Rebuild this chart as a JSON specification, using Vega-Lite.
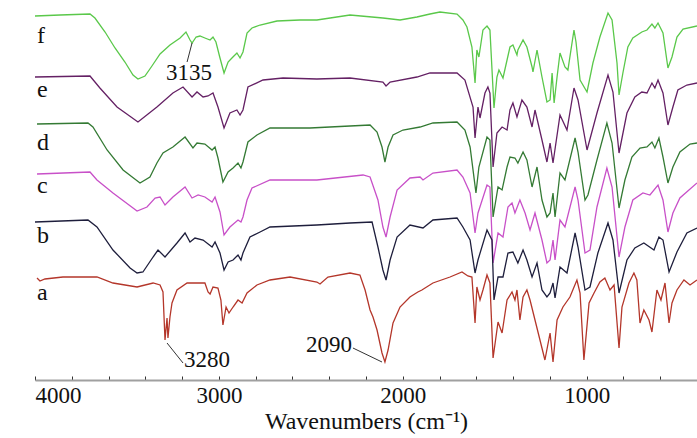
{
"$schema": "https://vega.github.io/schema/vega-lite/v6.json",
"width": 662, "height": 380,
"padding": {"left": 35, "top": 0, "right": 0, "bottom": 58},
"autosize": {"type": "none"},
"background": "white",
"config": {"view": {"stroke": null}, "font": "Times New Roman",
  "axis": {"labelFont": "Times New Roman", "titleFont": "Times New Roman"},
  "text": {"font": "Times New Roman"}},
"datasets": {
"spectra": [
{"s":"f","w":4000,"t":364},{"s":"f","w":3864,"t":365},{"s":"f","w":3701,"t":366},{"s":"f","w":3674,"t":362},{"s":"f","w":3619,"t":348},{"s":"f","w":3565,"t":332},{"s":"f","w":3511,"t":318},{"s":"f","w":3467,"t":305},{"s":"f","w":3440,"t":301},{"s":"f","w":3402,"t":304},{"s":"f","w":3364,"t":314},{"s":"f","w":3320,"t":326},{"s":"f","w":3266,"t":335},{"s":"f","w":3211,"t":342},{"s":"f","w":3179,"t":348},{"s":"f","w":3157,"t":340},{"s":"f","w":3146,"t":337},{"s":"f","w":3124,"t":343},{"s":"f","w":3103,"t":344},{"s":"f","w":3076,"t":342},{"s":"f","w":3048,"t":340},{"s":"f","w":3032,"t":343},{"s":"f","w":3016,"t":338},{"s":"f","w":2994,"t":322},{"s":"f","w":2972,"t":307},{"s":"f","w":2950,"t":318},{"s":"f","w":2929,"t":322},{"s":"f","w":2902,"t":327},{"s":"f","w":2885,"t":322},{"s":"f","w":2869,"t":328},{"s":"f","w":2847,"t":347},{"s":"f","w":2820,"t":352},{"s":"f","w":2776,"t":355},{"s":"f","w":2684,"t":359},{"s":"f","w":2559,"t":360},{"s":"f","w":2467,"t":360},{"s":"f","w":2287,"t":365},{"s":"f","w":2108,"t":362},{"s":"f","w":2015,"t":360},{"s":"f","w":1923,"t":363},{"s":"f","w":1852,"t":366},{"s":"f","w":1798,"t":368},{"s":"f","w":1705,"t":366},{"s":"f","w":1673,"t":360},{"s":"f","w":1651,"t":353},{"s":"f","w":1624,"t":333},{"s":"f","w":1607,"t":297},{"s":"f","w":1597,"t":330},{"s":"f","w":1586,"t":323},{"s":"f","w":1564,"t":350},{"s":"f","w":1542,"t":354},{"s":"f","w":1526,"t":350},{"s":"f","w":1504,"t":272},{"s":"f","w":1488,"t":303},{"s":"f","w":1477,"t":310},{"s":"f","w":1455,"t":302},{"s":"f","w":1433,"t":320},{"s":"f","w":1417,"t":333},{"s":"f","w":1401,"t":335},{"s":"f","w":1379,"t":325},{"s":"f","w":1374,"t":330},{"s":"f","w":1346,"t":340},{"s":"f","w":1325,"t":333},{"s":"f","w":1297,"t":313},{"s":"f","w":1292,"t":308},{"s":"f","w":1270,"t":330},{"s":"f","w":1243,"t":303},{"s":"f","w":1216,"t":278},{"s":"f","w":1199,"t":280},{"s":"f","w":1188,"t":307},{"s":"f","w":1177,"t":277},{"s":"f","w":1161,"t":303},{"s":"f","w":1145,"t":327},{"s":"f","w":1118,"t":313},{"s":"f","w":1102,"t":310},{"s":"f","w":1069,"t":350},{"s":"f","w":1058,"t":338},{"s":"f","w":1036,"t":300},{"s":"f","w":998,"t":288},{"s":"f","w":966,"t":317},{"s":"f","w":928,"t":343},{"s":"f","w":884,"t":367},{"s":"f","w":862,"t":360},{"s":"f","w":835,"t":317},{"s":"f","w":824,"t":285},{"s":"f","w":803,"t":307},{"s":"f","w":776,"t":333},{"s":"f","w":749,"t":342},{"s":"f","w":700,"t":348},{"s":"f","w":672,"t":350},{"s":"f","w":645,"t":356},{"s":"f","w":629,"t":352},{"s":"f","w":612,"t":357},{"s":"f","w":585,"t":347},{"s":"f","w":558,"t":312},{"s":"f","w":536,"t":323},{"s":"f","w":509,"t":343},{"s":"f","w":476,"t":351},{"s":"f","w":400,"t":354},
{"s":"e","w":4000,"t":303},{"s":"e","w":3701,"t":304},{"s":"e","w":3647,"t":292},{"s":"e","w":3554,"t":273},{"s":"e","w":3440,"t":258},{"s":"e","w":3337,"t":273},{"s":"e","w":3250,"t":287},{"s":"e","w":3195,"t":293},{"s":"e","w":3146,"t":283},{"s":"e","w":3119,"t":288},{"s":"e","w":3086,"t":283},{"s":"e","w":3059,"t":284},{"s":"e","w":3032,"t":287},{"s":"e","w":3005,"t":273},{"s":"e","w":2972,"t":252},{"s":"e","w":2940,"t":267},{"s":"e","w":2902,"t":270},{"s":"e","w":2885,"t":265},{"s":"e","w":2869,"t":270},{"s":"e","w":2842,"t":293},{"s":"e","w":2760,"t":300},{"s":"e","w":2651,"t":302},{"s":"e","w":2467,"t":301},{"s":"e","w":2287,"t":302},{"s":"e","w":2108,"t":298},{"s":"e","w":2091,"t":294},{"s":"e","w":2069,"t":298},{"s":"e","w":1923,"t":303},{"s":"e","w":1852,"t":307},{"s":"e","w":1705,"t":307},{"s":"e","w":1662,"t":300},{"s":"e","w":1618,"t":273},{"s":"e","w":1607,"t":242},{"s":"e","w":1591,"t":273},{"s":"e","w":1580,"t":262},{"s":"e","w":1553,"t":287},{"s":"e","w":1537,"t":293},{"s":"e","w":1526,"t":287},{"s":"e","w":1509,"t":213},{"s":"e","w":1488,"t":247},{"s":"e","w":1460,"t":253},{"s":"e","w":1433,"t":250},{"s":"e","w":1417,"t":270},{"s":"e","w":1401,"t":277},{"s":"e","w":1379,"t":263},{"s":"e","w":1352,"t":280},{"s":"e","w":1325,"t":273},{"s":"e","w":1297,"t":253},{"s":"e","w":1281,"t":270},{"s":"e","w":1243,"t":240},{"s":"e","w":1216,"t":218},{"s":"e","w":1199,"t":237},{"s":"e","w":1183,"t":217},{"s":"e","w":1145,"t":265},{"s":"e","w":1107,"t":250},{"s":"e","w":1069,"t":292},{"s":"e","w":1047,"t":280},{"s":"e","w":998,"t":230},{"s":"e","w":944,"t":267},{"s":"e","w":884,"t":305},{"s":"e","w":857,"t":288},{"s":"e","w":824,"t":227},{"s":"e","w":781,"t":267},{"s":"e","w":738,"t":283},{"s":"e","w":700,"t":288},{"s":"e","w":672,"t":287},{"s":"e","w":645,"t":297},{"s":"e","w":629,"t":292},{"s":"e","w":612,"t":300},{"s":"e","w":585,"t":287},{"s":"e","w":558,"t":255},{"s":"e","w":531,"t":273},{"s":"e","w":504,"t":290},{"s":"e","w":455,"t":295},{"s":"e","w":400,"t":297},
{"s":"d","w":3989,"t":256},{"s":"d","w":3712,"t":257},{"s":"d","w":3685,"t":253},{"s":"d","w":3608,"t":230},{"s":"d","w":3521,"t":210},{"s":"d","w":3429,"t":197},{"s":"d","w":3375,"t":203},{"s":"d","w":3337,"t":217},{"s":"d","w":3304,"t":227},{"s":"d","w":3250,"t":233},{"s":"d","w":3184,"t":243},{"s":"d","w":3141,"t":232},{"s":"d","w":3119,"t":237},{"s":"d","w":3076,"t":236},{"s":"d","w":3037,"t":230},{"s":"d","w":3021,"t":233},{"s":"d","w":3005,"t":222},{"s":"d","w":2978,"t":198},{"s":"d","w":2950,"t":208},{"s":"d","w":2923,"t":212},{"s":"d","w":2896,"t":217},{"s":"d","w":2880,"t":212},{"s":"d","w":2869,"t":218},{"s":"d","w":2842,"t":238},{"s":"d","w":2793,"t":245},{"s":"d","w":2722,"t":252},{"s":"d","w":2505,"t":252},{"s":"d","w":2287,"t":254},{"s":"d","w":2178,"t":255},{"s":"d","w":2140,"t":248},{"s":"d","w":2113,"t":233},{"s":"d","w":2097,"t":218},{"s":"d","w":2080,"t":233},{"s":"d","w":2053,"t":245},{"s":"d","w":1999,"t":250},{"s":"d","w":1906,"t":253},{"s":"d","w":1836,"t":257},{"s":"d","w":1705,"t":258},{"s":"d","w":1662,"t":250},{"s":"d","w":1634,"t":233},{"s":"d","w":1602,"t":187},{"s":"d","w":1586,"t":213},{"s":"d","w":1542,"t":243},{"s":"d","w":1526,"t":240},{"s":"d","w":1509,"t":163},{"s":"d","w":1482,"t":193},{"s":"d","w":1460,"t":190},{"s":"d","w":1433,"t":213},{"s":"d","w":1417,"t":223},{"s":"d","w":1390,"t":222},{"s":"d","w":1374,"t":217},{"s":"d","w":1346,"t":228},{"s":"d","w":1325,"t":220},{"s":"d","w":1297,"t":193},{"s":"d","w":1270,"t":213},{"s":"d","w":1243,"t":180},{"s":"d","w":1216,"t":163},{"s":"d","w":1199,"t":167},{"s":"d","w":1183,"t":187},{"s":"d","w":1172,"t":163},{"s":"d","w":1145,"t":207},{"s":"d","w":1118,"t":200},{"s":"d","w":1063,"t":242},{"s":"d","w":1047,"t":228},{"s":"d","w":1009,"t":180},{"s":"d","w":993,"t":185},{"s":"d","w":944,"t":220},{"s":"d","w":890,"t":257},{"s":"d","w":862,"t":237},{"s":"d","w":824,"t":172},{"s":"d","w":792,"t":200},{"s":"d","w":754,"t":223},{"s":"d","w":710,"t":232},{"s":"d","w":672,"t":233},{"s":"d","w":645,"t":238},{"s":"d","w":629,"t":232},{"s":"d","w":607,"t":242},{"s":"d","w":585,"t":223},{"s":"d","w":558,"t":197},{"s":"d","w":531,"t":213},{"s":"d","w":493,"t":228},{"s":"d","w":438,"t":236},{"s":"d","w":400,"t":237},
{"s":"c","w":3989,"t":206},{"s":"c","w":3701,"t":208},{"s":"c","w":3663,"t":200},{"s":"c","w":3576,"t":187},{"s":"c","w":3445,"t":169},{"s":"c","w":3391,"t":173},{"s":"c","w":3347,"t":182},{"s":"c","w":3320,"t":183},{"s":"c","w":3293,"t":175},{"s":"c","w":3250,"t":183},{"s":"c","w":3184,"t":193},{"s":"c","w":3146,"t":182},{"s":"c","w":3113,"t":185},{"s":"c","w":3076,"t":183},{"s":"c","w":3037,"t":178},{"s":"c","w":3021,"t":183},{"s":"c","w":2994,"t":168},{"s":"c","w":2972,"t":145},{"s":"c","w":2940,"t":153},{"s":"c","w":2896,"t":160},{"s":"c","w":2880,"t":158},{"s":"c","w":2869,"t":163},{"s":"c","w":2847,"t":180},{"s":"c","w":2820,"t":192},{"s":"c","w":2722,"t":200},{"s":"c","w":2467,"t":200},{"s":"c","w":2216,"t":205},{"s":"c","w":2178,"t":203},{"s":"c","w":2135,"t":180},{"s":"c","w":2108,"t":153},{"s":"c","w":2091,"t":143},{"s":"c","w":2069,"t":163},{"s":"c","w":2031,"t":190},{"s":"c","w":1961,"t":202},{"s":"c","w":1906,"t":203},{"s":"c","w":1890,"t":200},{"s":"c","w":1836,"t":207},{"s":"c","w":1705,"t":210},{"s":"c","w":1673,"t":203},{"s":"c","w":1634,"t":187},{"s":"c","w":1607,"t":147},{"s":"c","w":1591,"t":167},{"s":"c","w":1542,"t":195},{"s":"c","w":1526,"t":193},{"s":"c","w":1509,"t":117},{"s":"c","w":1482,"t":147},{"s":"c","w":1455,"t":143},{"s":"c","w":1428,"t":173},{"s":"c","w":1406,"t":177},{"s":"c","w":1390,"t":167},{"s":"c","w":1363,"t":180},{"s":"c","w":1335,"t":167},{"s":"c","w":1308,"t":150},{"s":"c","w":1281,"t":167},{"s":"c","w":1243,"t":140},{"s":"c","w":1216,"t":117},{"s":"c","w":1199,"t":120},{"s":"c","w":1183,"t":140},{"s":"c","w":1172,"t":120},{"s":"c","w":1145,"t":160},{"s":"c","w":1118,"t":153},{"s":"c","w":1063,"t":193},{"s":"c","w":1047,"t":180},{"s":"c","w":1009,"t":127},{"s":"c","w":982,"t":130},{"s":"c","w":944,"t":173},{"s":"c","w":890,"t":212},{"s":"c","w":862,"t":193},{"s":"c","w":824,"t":123},{"s":"c","w":792,"t":153},{"s":"c","w":749,"t":180},{"s":"c","w":694,"t":187},{"s":"c","w":656,"t":185},{"s":"c","w":612,"t":195},{"s":"c","w":585,"t":180},{"s":"c","w":558,"t":148},{"s":"c","w":531,"t":167},{"s":"c","w":493,"t":182},{"s":"c","w":400,"t":197},
{"s":"b","w":4000,"t":158},{"s":"b","w":3712,"t":160},{"s":"b","w":3663,"t":153},{"s":"b","w":3576,"t":130},{"s":"b","w":3483,"t":112},{"s":"b","w":3445,"t":107},{"s":"b","w":3413,"t":108},{"s":"b","w":3358,"t":123},{"s":"b","w":3331,"t":130},{"s":"b","w":3293,"t":123},{"s":"b","w":3228,"t":137},{"s":"b","w":3184,"t":147},{"s":"b","w":3157,"t":138},{"s":"b","w":3130,"t":142},{"s":"b","w":3086,"t":140},{"s":"b","w":3037,"t":133},{"s":"b","w":3021,"t":138},{"s":"b","w":2994,"t":127},{"s":"b","w":2972,"t":110},{"s":"b","w":2950,"t":118},{"s":"b","w":2923,"t":120},{"s":"b","w":2896,"t":125},{"s":"b","w":2880,"t":120},{"s":"b","w":2869,"t":127},{"s":"b","w":2831,"t":143},{"s":"b","w":2776,"t":148},{"s":"b","w":2722,"t":153},{"s":"b","w":2467,"t":155},{"s":"b","w":2287,"t":157},{"s":"b","w":2167,"t":158},{"s":"b","w":2135,"t":133},{"s":"b","w":2108,"t":110},{"s":"b","w":2091,"t":100},{"s":"b","w":2069,"t":120},{"s":"b","w":2031,"t":143},{"s":"b","w":1961,"t":155},{"s":"b","w":1890,"t":152},{"s":"b","w":1836,"t":160},{"s":"b","w":1705,"t":162},{"s":"b","w":1673,"t":153},{"s":"b","w":1634,"t":140},{"s":"b","w":1607,"t":107},{"s":"b","w":1591,"t":120},{"s":"b","w":1542,"t":150},{"s":"b","w":1515,"t":140},{"s":"b","w":1504,"t":80},{"s":"b","w":1482,"t":103},{"s":"b","w":1455,"t":103},{"s":"b","w":1428,"t":127},{"s":"b","w":1401,"t":128},{"s":"b","w":1374,"t":117},{"s":"b","w":1346,"t":130},{"s":"b","w":1325,"t":120},{"s":"b","w":1297,"t":103},{"s":"b","w":1270,"t":117},{"s":"b","w":1243,"t":90},{"s":"b","w":1216,"t":83},{"s":"b","w":1199,"t":87},{"s":"b","w":1183,"t":97},{"s":"b","w":1172,"t":82},{"s":"b","w":1145,"t":113},{"s":"b","w":1107,"t":107},{"s":"b","w":1063,"t":147},{"s":"b","w":1047,"t":133},{"s":"b","w":1009,"t":90},{"s":"b","w":982,"t":93},{"s":"b","w":939,"t":127},{"s":"b","w":884,"t":157},{"s":"b","w":857,"t":140},{"s":"b","w":824,"t":87},{"s":"b","w":781,"t":120},{"s":"b","w":738,"t":132},{"s":"b","w":689,"t":137},{"s":"b","w":634,"t":130},{"s":"b","w":607,"t":143},{"s":"b","w":585,"t":140},{"s":"b","w":552,"t":108},{"s":"b","w":509,"t":128},{"s":"b","w":455,"t":147},{"s":"b","w":400,"t":152},
{"s":"a","w":3989,"t":102},{"s":"a","w":3973,"t":99},{"s":"a","w":3946,"t":101},{"s":"a","w":3848,"t":103},{"s":"a","w":3663,"t":103},{"s":"a","w":3576,"t":97},{"s":"a","w":3445,"t":93},{"s":"a","w":3358,"t":97},{"s":"a","w":3320,"t":95},{"s":"a","w":3304,"t":88},{"s":"a","w":3293,"t":40},{"s":"a","w":3282,"t":62},{"s":"a","w":3277,"t":42},{"s":"a","w":3266,"t":63},{"s":"a","w":3255,"t":77},{"s":"a","w":3228,"t":90},{"s":"a","w":3173,"t":97},{"s":"a","w":3076,"t":97},{"s":"a","w":3059,"t":88},{"s":"a","w":3048,"t":86},{"s":"a","w":3032,"t":93},{"s":"a","w":3005,"t":92},{"s":"a","w":2989,"t":80},{"s":"a","w":2978,"t":55},{"s":"a","w":2961,"t":73},{"s":"a","w":2945,"t":67},{"s":"a","w":2923,"t":73},{"s":"a","w":2896,"t":80},{"s":"a","w":2874,"t":77},{"s":"a","w":2847,"t":87},{"s":"a","w":2793,"t":95},{"s":"a","w":2722,"t":100},{"s":"a","w":2613,"t":103},{"s":"a","w":2467,"t":98},{"s":"a","w":2450,"t":96},{"s":"a","w":2407,"t":103},{"s":"a","w":2287,"t":107},{"s":"a","w":2233,"t":105},{"s":"a","w":2205,"t":90},{"s":"a","w":2178,"t":70},{"s":"a","w":2162,"t":63},{"s":"a","w":2140,"t":50},{"s":"a","w":2113,"t":27},{"s":"a","w":2097,"t":18},{"s":"a","w":2080,"t":30},{"s":"a","w":2053,"t":57},{"s":"a","w":2015,"t":73},{"s":"a","w":1961,"t":83},{"s":"a","w":1918,"t":88},{"s":"a","w":1896,"t":90},{"s":"a","w":1836,"t":97},{"s":"a","w":1743,"t":103},{"s":"a","w":1678,"t":108},{"s":"a","w":1646,"t":104},{"s":"a","w":1624,"t":103},{"s":"a","w":1607,"t":57},{"s":"a","w":1597,"t":93},{"s":"a","w":1580,"t":80},{"s":"a","w":1564,"t":90},{"s":"a","w":1542,"t":105},{"s":"a","w":1526,"t":97},{"s":"a","w":1509,"t":22},{"s":"a","w":1482,"t":58},{"s":"a","w":1460,"t":47},{"s":"a","w":1433,"t":80},{"s":"a","w":1406,"t":88},{"s":"a","w":1390,"t":80},{"s":"a","w":1379,"t":90},{"s":"a","w":1363,"t":60},{"s":"a","w":1346,"t":83},{"s":"a","w":1325,"t":90},{"s":"a","w":1308,"t":80},{"s":"a","w":1281,"t":60},{"s":"a","w":1254,"t":40},{"s":"a","w":1227,"t":20},{"s":"a","w":1199,"t":47},{"s":"a","w":1183,"t":18},{"s":"a","w":1161,"t":60},{"s":"a","w":1129,"t":73},{"s":"a","w":1091,"t":83},{"s":"a","w":1053,"t":100},{"s":"a","w":1036,"t":87},{"s":"a","w":1015,"t":20},{"s":"a","w":987,"t":77},{"s":"a","w":960,"t":87},{"s":"a","w":928,"t":98},{"s":"a","w":901,"t":102},{"s":"a","w":873,"t":90},{"s":"a","w":851,"t":95},{"s":"a","w":824,"t":32},{"s":"a","w":808,"t":73},{"s":"a","w":770,"t":97},{"s":"a","w":743,"t":107},{"s":"a","w":727,"t":100},{"s":"a","w":710,"t":57},{"s":"a","w":689,"t":70},{"s":"a","w":661,"t":60},{"s":"a","w":645,"t":48},{"s":"a","w":618,"t":90},{"s":"a","w":596,"t":80},{"s":"a","w":574,"t":97},{"s":"a","w":552,"t":57},{"s":"a","w":536,"t":77},{"s":"a","w":509,"t":90},{"s":"a","w":471,"t":100},{"s":"a","w":438,"t":95},{"s":"a","w":400,"t":100}
],
"labels": [
{"label":"f","w":3989,"t":337},{"label":"e","w":3989,"t":283},{"label":"d","w":3989,"t":230},{"label":"c","w":3989,"t":187},{"label":"b","w":3989,"t":137},{"label":"a","w":3989,"t":80}
],
"notes": [
{"label":"3135","w":3163,"t":300},{"label":"3280","w":3065,"t":13},{"label":"2090","w":2401,"t":28}
],
"leaders": [
{"w":3146,"t":337,"w2":3173,"t2":318},{"w":3282,"t":37,"w2":3195,"t2":17},{"w":2271,"t":32,"w2":2113,"t2":18}
]
},
"encoding": {
"x": {"field": "w", "type": "quantitative",
  "scale": {"domain": [400, 4000], "reverse": true, "nice": false, "zero": false},
  "axis": {"values": [4000,3800,3600,3400,3200,3000,2800,2600,2400,2200,2000,1800,1600,1400,1200,1000,800,600],
    "format": "d", "labelExpr": "datum.value % 1000 == 0 ? datum.label : ''",
    "grid": false, "domainColor": "#a0a0a0", "domainWidth": 2, "tickColor": "#333333", "tickSize": -4, "tickWidth": 1,
    "labelFontSize": 23, "labelColor": "#111111", "labelPadding": 8, "labelFont": "Times New Roman",
    "title": "Wavenumbers (cm⁻¹)", "titleFontSize": 24, "titleFontWeight": "normal", "titleColor": "#111111", "titleFont": "Times New Roman", "titlePadding": 2}},
"y": {"field": "t", "type": "quantitative", "scale": {"domain": [0, 380], "nice": false, "zero": false}, "axis": null}
},
"layer": [
{"data": {"name": "spectra"}, "mark": {"type": "line", "strokeWidth": 1.3},
 "encoding": {"color": {"field": "s", "type": "nominal", "legend": null,
   "scale": {"domain": ["a","b","c","d","e","f"], "range": ["#b4362a","#1e1e3c","#c850c8","#347a34","#642064","#5ac84a"]}}}},
{"data": {"name": "leaders"}, "mark": {"type": "rule", "color": "#333333", "strokeWidth": 1},
 "encoding": {"x2": {"field": "w2"}, "y2": {"field": "t2"}}},
{"data": {"name": "labels"}, "mark": {"type": "text", "align": "left", "baseline": "alphabetic", "fontSize": 24, "color": "#111111", "font": "Times New Roman"},
 "encoding": {"text": {"field": "label"}}},
{"data": {"name": "notes"}, "mark": {"type": "text", "align": "center", "baseline": "alphabetic", "fontSize": 23, "color": "#111111", "font": "Times New Roman"},
 "encoding": {"text": {"field": "label"}}}
]
}
